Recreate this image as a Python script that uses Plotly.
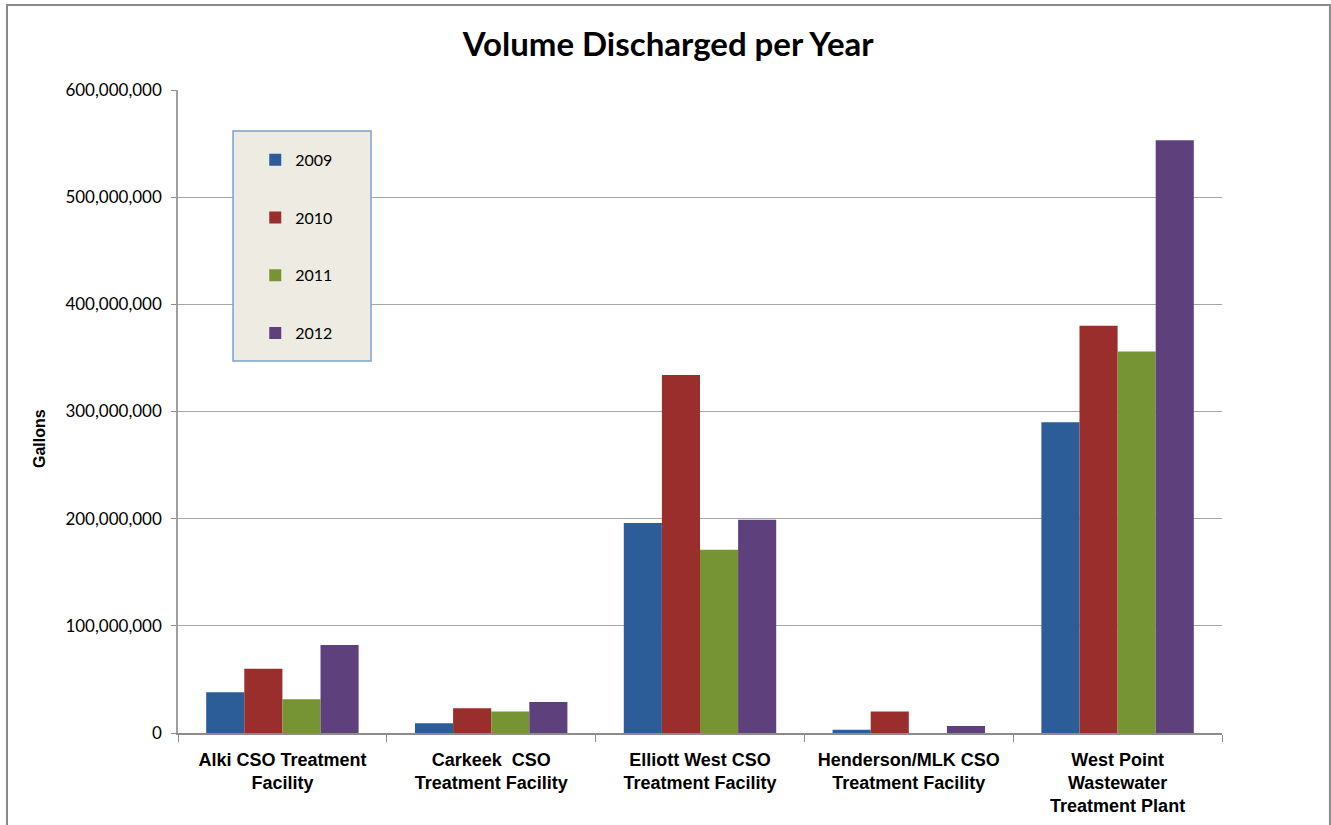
import plotly.graph_objects as go

categories = [
    "Alki CSO Treatment<br>Facility",
    "Carkeek  CSO<br>Treatment Facility",
    "Elliott West CSO<br>Treatment Facility",
    "Henderson/MLK CSO<br>Treatment Facility",
    "West Point<br>Wastewater<br>Treatment Plant",
]
years = ["2009", "2010", "2011", "2012"]
v2009 = [38_000_000, 9_000_000, 196_000_000, 3_000_000, 290_000_000]
v2010 = [60_000_000, 23_000_000, 334_000_000, 20_000_000, 380_000_000]
v2011 = [31_500_000, 20_000_000, 171_000_000, 0, 356_000_000]
v2012 = [82_000_000, 29_000_000, 199_000_000, 6_500_000, 553_000_000]
series = [v2009, v2010, v2011, v2012]
colors = ["#2C5D98", "#9A2E2C", "#779434", "#5E407D"]

fig = go.Figure()
for i, (yr, vals) in enumerate(zip(years, series)):
    fig.add_trace(go.Bar(
        x=categories, y=vals, name=yr, marker_color=colors[i],
        marker_line_width=0, legendgroup=yr,
    ))

fig.update_layout(
    width=1331, height=825,
    margin=dict(l=178, r=109, t=90, b=92, autoexpand=False),
    paper_bgcolor="white", plot_bgcolor="white",
    barmode="group", bargap=0.27, bargroupgap=0,
    title=dict(text="<b>Volume Discharged per Year</b>", x=0.502, xanchor="center",
               y=0.946, yanchor="middle",
               font=dict(family="Lato", size=33, color="black")),
    font=dict(family="Lato", size=15, color="black"),
    showlegend=True,
    legend=dict(x=0.074, y=0.918, xanchor="left", yanchor="top",
                bgcolor="rgba(0,0,0,0)", borderwidth=0,
                tracegroupgap=34, itemwidth=30,
                font=dict(family="Lato", size=16, color="black")),
    xaxis=dict(
        showline=True, linecolor="#8c8c8c", linewidth=2,
        ticks="outside", tickson="boundaries", ticklen=7, tickcolor="#8c8c8c",
        tickfont=dict(family="Liberation Sans", size=18, color="black"),
        tickangle=0, ticklabelstandoff=9,
        tickvals=categories,
        ticktext=["<b>" + c + "</b>" for c in categories],
    ),
    yaxis=dict(
        range=[0, 600_000_000], tickvals=[0, 100e6, 200e6, 300e6, 400e6, 500e6, 600e6],
        tickformat=",", showgrid=True, gridcolor="#a6a6a6", gridwidth=1,
        showline=True, linecolor="#a0a0a0", linewidth=1.5,
        ticks="outside", ticklen=5, tickcolor="#8c8c8c",
        tickfont=dict(family="Lato", size=17, color="black"),
        ticklabelstandoff=6,
        zeroline=False,
    ),
    annotations=[
        dict(text="<b>Gallons</b>", xref="paper", yref="paper", x=-0.1322, y=0.4588,
             xanchor="center", yanchor="middle", textangle=-90, showarrow=False,
             font=dict(family="Liberation Sans", size=16, color="black")),
    ],
    shapes=[
        dict(type="rect", xref="paper", yref="paper",
             x0=-0.1638, x1=1.1034, y0=-0.2, y1=1.1322,
             line=dict(color="#8a8a8a", width=2), fillcolor="rgba(0,0,0,0)", layer="below"),
        dict(type="rect", xref="paper", yref="paper",
             x0=0.0527, x1=0.1849, y0=0.5785, y1=0.9362,
             line=dict(color="#7BA1D0", width=1.5), fillcolor="#EDEBE2", layer="above"),
    ],
)

fig.write_html("out.html", post_script="document.body.style.margin='0';",
               config={"displayModeBar": False})
